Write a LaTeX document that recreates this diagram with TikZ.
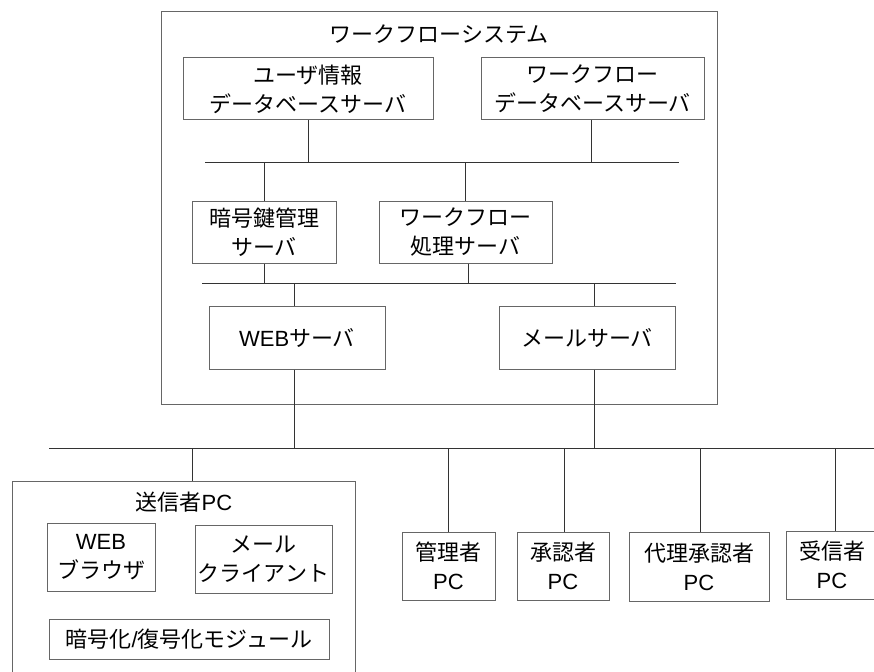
\documentclass[tikz,border=0pt]{standalone}
\usepackage{fontspec}
\setmainfont{Noto Sans CJK JP}
\newfontfamily\lat{Liberation Sans}
\begin{document}
\begin{tikzpicture}[x=1pt,y=-1pt,
  box/.style={draw=black!60, line width=1pt, align=center, inner sep=0pt,
    font=\fontsize{22}{29}\selectfont},
  label/.style={inner sep=0pt, font=\fontsize{22}{29}\selectfont},
  conn/.style={draw=black!80, line width=0.9pt}]
\clip (0,0) rectangle (874,671);
\fill[white] (0,0) rectangle (874,671);
% workflow system
\node[box, minimum width=556pt, minimum height=392pt] (sys) at (439,208) {};
\node[label] (systitle) at (439,34) {ワークフローシステム};
\node[box, minimum width=250pt, minimum height=62pt] (udb) at (308,89) {ユーザ情報\\データベースサーバ};
\node[box, minimum width=223pt, minimum height=62pt] (wdb) at (592.5,89) {ワークフロー\\データベースサーバ};
\node[box, minimum width=144pt, minimum height=62pt] (key) at (264,232) {暗号鍵管理\\サーバ};
\node[box, minimum width=173pt, minimum height=62pt] (proc) at (465.5,232) {ワークフロー\\処理サーバ};
\node[box, minimum width=176pt, minimum height=63pt] (web) at (297,337.5) {{\lat WEB}サーバ};
\node[box, minimum width=176pt, minimum height=63pt] (mail) at (587,337.5) {メールサーバ};
% buses
\coordinate (b1L) at (205,162); \coordinate (b1R) at (679,162);
\coordinate (b2L) at (202,283); \coordinate (b2R) at (676,283);
\coordinate (b3L) at (49,448);  \coordinate (b3R) at (874,448);
\draw[conn] (b1L) -- (b1R);
\draw[conn] (b2L) -- (b2R);
\draw[conn] (b3L) -- (b3R);
\draw[conn] (udb.south) -- (udb.south |- b1L);
\draw[conn] ([xshift=-1.5pt]wdb.south) -- ([xshift=-1.5pt]wdb.south |- b1L);
\draw[conn] (key.north) -- (key.north |- b1L);
\draw[conn] (proc.north) -- (proc.north |- b1L);
\draw[conn] (key.south) -- (key.south |- b2L);
\draw[conn] ([xshift=2.5pt]proc.south) -- ([xshift=2.5pt]proc.south |- b2L);
\draw[conn] ([xshift=-3pt]web.north) -- ([xshift=-3pt]web.north |- b2L);
\draw[conn] ([xshift=7pt]mail.north) -- ([xshift=7pt]mail.north |- b2L);
\draw[conn] ([xshift=-3pt]web.south) -- ([xshift=-3pt]web.south |- b3L);
\draw[conn] ([xshift=7pt]mail.south) -- ([xshift=7pt]mail.south |- b3L);
% sender PC
\node[box, minimum width=343pt, minimum height=209pt] (snd) at (183.5,585.5) {};
\node[label] (sndtitle) at (184,502) {送信者{\lat PC}};
\node[box, minimum width=108pt, minimum height=68pt] (wb) at (101,557) {{\lat WEB}\\ブラウザ};
\node[box, minimum width=137pt, minimum height=68pt] (mc) at (263.5,559) {メール\\クライアント};
\node[box, minimum width=280pt, minimum height=40pt] (mod) at (189,639) {暗号化{\lat /}復号化モジュール};
\draw[conn] ([xshift=8.5pt]snd.north) -- ([xshift=8.5pt]snd.north |- b3L);
% other PCs
\node[box, minimum width=93pt, minimum height=68pt] (adm) at (448.5,566) {管理者\\{\lat PC}};
\node[box, minimum width=92pt, minimum height=68pt] (appr) at (563,566) {承認者\\{\lat PC}};
\node[box, minimum width=140pt, minimum height=69pt] (prx) at (699,566.5) {代理承認者\\{\lat PC}};
\node[box, minimum width=92pt, minimum height=68pt] (rcv) at (832,565) {受信者\\{\lat PC}};
\draw[conn] (adm.north) -- (adm.north |- b3L);
\draw[conn] ([xshift=1pt]appr.north) -- ([xshift=1pt]appr.north |- b3L);
\draw[conn] ([xshift=1pt]prx.north) -- ([xshift=1pt]prx.north |- b3L);
\draw[conn] ([xshift=3pt]rcv.north) -- ([xshift=3pt]rcv.north |- b3L);
\end{tikzpicture}
\end{document}
